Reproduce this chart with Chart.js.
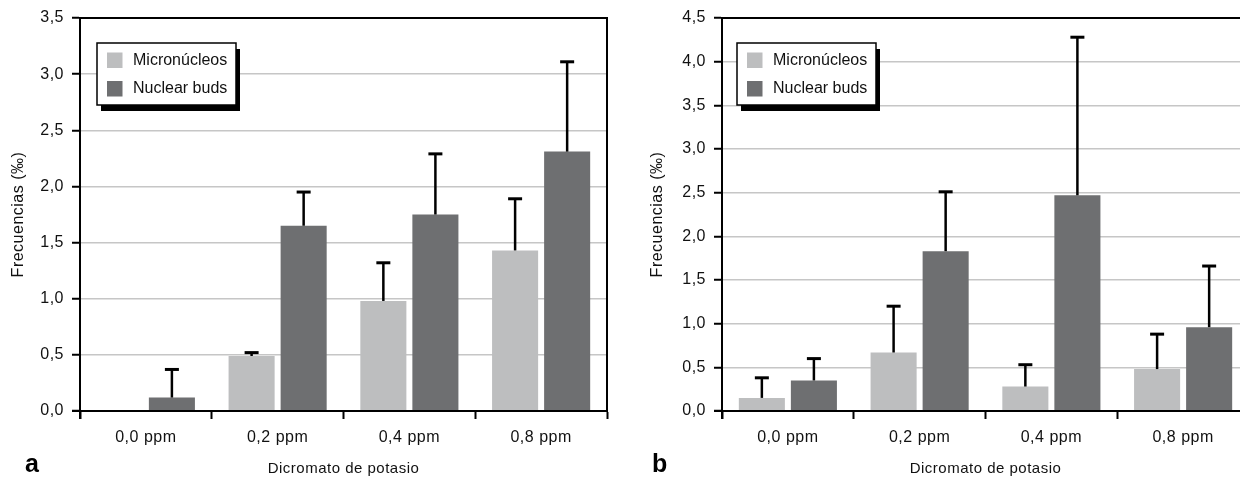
<!DOCTYPE html>
<html><head><meta charset="utf-8">
<script src="https://cdn.jsdelivr.net/npm/chart.js@4.4.1/dist/chart.umd.min.js"></script>
<style>
html,body{margin:0;padding:0;background:#fff;}
#wrap{position:relative;width:1240px;height:478px;overflow:hidden;background:#fff;}
.pane{position:absolute;top:0;height:478px;}
#pa{left:0;width:620px;}
#pb{left:620px;width:640px;}
.lbl{position:absolute;font:bold 25px "Liberation Sans",Arial,sans-serif;line-height:25px;color:#000;}
</style></head><body>
<div id="wrap">
<div class="pane" id="pa"><canvas id="ca" width="620" height="478"></canvas></div>
<div class="pane" id="pb"><canvas id="cb" width="640" height="478"></canvas></div>
<div class="lbl" style="left:25px;top:451px">a</div>
<div class="lbl" style="left:652px;top:451px">b</div>
</div>
<script>
const FONT = '"Liberation Sans", Arial, Helvetica, sans-serif';
const categories = ['0,0 ppm', '0,2 ppm', '0,4 ppm', '0,8 ppm'];
const seriesNames = ['Micronúcleos', 'Nuclear buds'];
const seriesColors = ['#bdbebf', '#6e6f71'];
// Panel a
const microA = [0, 0.49, 0.98, 1.43];
const microErrA = [null, 0.03, 0.34, 0.46];
const budsA = [0.12, 1.65, 1.75, 2.31];
const budsErrA = [0.25, 0.30, 0.54, 0.80];
// Panel b
const microB = [0.15, 0.67, 0.28, 0.48];
const microErrB = [0.23, 0.53, 0.25, 0.40];
const budsB = [0.35, 1.83, 2.47, 0.96];
const budsErrB = [0.25, 0.68, 1.81, 0.70];
const yTicksA = ['0,0', '0,5', '1,0', '1,5', '2,0', '2,5', '3,0', '3,5'];
const yTicksB = ['0,0', '0,5', '1,0', '1,5', '2,0', '2,5', '3,0', '3,5', '4,0', '4,5'];
const xTitle = 'Dicromato de potasio';
const yTitle = 'Frecuencias (‰)';

Chart.defaults.font.family = FONT;

const spacing = {
  id: 'spacing',
  beforeDraw(chart) { chart.ctx.letterSpacing = '0.5px'; }
};

const errorBars = {
  id: 'errorBars',
  afterDatasetsDraw(chart) {
    const ctx = chart.ctx, ys = chart.scales.y;
    chart.data.datasets.forEach((ds, di) => {
      const meta = chart.getDatasetMeta(di);
      meta.data.forEach((bar, i) => {
        const e = ds.errors[i];
        if (e == null) return;
        const top = ys.getPixelForValue(ds.data[i] + e);
        ctx.save();
        ctx.strokeStyle = '#000';
        ctx.lineWidth = 2.5;
        ctx.beginPath(); ctx.moveTo(bar.x, bar.y); ctx.lineTo(bar.x, top); ctx.stroke();
        ctx.lineWidth = 3;
        ctx.beginPath(); ctx.moveTo(bar.x - 7, top); ctx.lineTo(bar.x + 7, top); ctx.stroke();
        ctx.restore();
      });
    });
  }
};

const frame = {
  id: 'frame',
  afterDatasetsDraw(chart) {
    const {ctx, chartArea: a} = chart;
    ctx.save();
    ctx.strokeStyle = '#000';
    ctx.lineWidth = 2;
    ctx.beginPath();
    ctx.moveTo(a.left, a.top); ctx.lineTo(a.right, a.top); ctx.lineTo(a.right, a.bottom);
    ctx.moveTo(a.left - 8, a.bottom); ctx.lineTo(a.right, a.bottom);
    ctx.moveTo(a.left, a.top); ctx.lineTo(a.left, a.bottom + 8);
    ctx.stroke();
    ctx.restore();
  }
};

const boxLegend = {
  id: 'boxLegend',
  afterDraw(chart, args, opts) {
    const ctx = chart.ctx;
    const x = chart.chartArea.left + opts.dx, y = opts.y, w = 139, h = 62;
    ctx.save();
    ctx.fillStyle = '#000';
    ctx.fillRect(x + 4, y + 6, w, h);
    ctx.fillStyle = '#fff';
    ctx.fillRect(x, y, w, h);
    ctx.strokeStyle = '#000';
    ctx.lineWidth = 1.5;
    ctx.strokeRect(x, y, w, h);
    ctx.letterSpacing = '0px';
    ctx.font = '16px ' + FONT;
    ctx.textBaseline = 'middle';
    ctx.textAlign = 'left';
    chart.data.datasets.forEach((ds, i) => {
      const cy = y + 17 + i * 28.5;
      ctx.fillStyle = ds.backgroundColor;
      ctx.fillRect(x + 10, cy - 7.5, 15.5, 15.5);
      ctx.fillStyle = '#111';
      ctx.fillText(ds.label, x + 36, cy + 0.5);
    });
    ctx.restore();
  }
};

function makeChart(id, micro, microErr, buds, budsErr, yMax, yTicks, padLeft, yWidth, padRight, titlePad, legendDx) {
  return new Chart(document.getElementById(id), {
    type: 'bar',
    data: {
      labels: categories,
      datasets: [
        {label: seriesNames[0], data: micro, errors: microErr, backgroundColor: seriesColors[0], borderWidth: 0,
         categoryPercentage: 0.79, barPercentage: 0.885},
        {label: seriesNames[1], data: buds, errors: budsErr, backgroundColor: seriesColors[1], borderWidth: 0,
         categoryPercentage: 0.79, barPercentage: 0.885}
      ]
    },
    options: {
      responsive: false,
      animation: false,
      layout: {padding: {left: padLeft, right: padRight, top: 18, bottom: 0}},
      plugins: {
        legend: {display: false},
        tooltip: {enabled: false},
        boxLegend: {dx: legendDx, y: 43}
      },
      scales: {
        x: {
          offset: true,
          grid: {display: true, drawOnChartArea: false, drawTicks: true, tickLength: 8,
                 tickColor: '#000', tickWidth: 2, offset: true},
          border: {display: true, color: '#000', width: 2},
          ticks: {color: '#111', font: {size: 16}, padding: 9, maxRotation: 0, autoSkip: false},
          title: {display: true, text: xTitle, color: '#111', font: {size: 15}, padding: {top: 0, bottom: 0}},
          afterFit(s) { s.height = 67; }
        },
        y: {
          min: 0, max: yMax,
          ticks: {stepSize: 0.5, color: '#111', font: {size: 16}, padding: 8,
                  callback: (v) => yTicks[Math.round(v / 0.5)]},
          grid: {color: '#c6c6c6', lineWidth: 1.5, drawTicks: true, tickLength: 8, tickColor: '#000', tickWidth: 2},
          border: {display: true, color: '#000', width: 2},
          title: {display: true, text: yTitle, color: '#111', font: {size: 16}, padding: {top: titlePad, bottom: 0}},
          afterFit(s) { s.width = yWidth; }
        }
      }
    },
    plugins: [spacing, errorBars, frame, boxLegend]
  });
}

makeChart('ca', microA, microErrA, budsA, budsErrA, 3.5, yTicksA, 0, 80, 13, 9.4, 17);
makeChart('cb', microB, microErrB, budsB, budsErrB, 4.5, yTicksB, 20, 82, 11, 8, 15);
</script>
</body></html>
